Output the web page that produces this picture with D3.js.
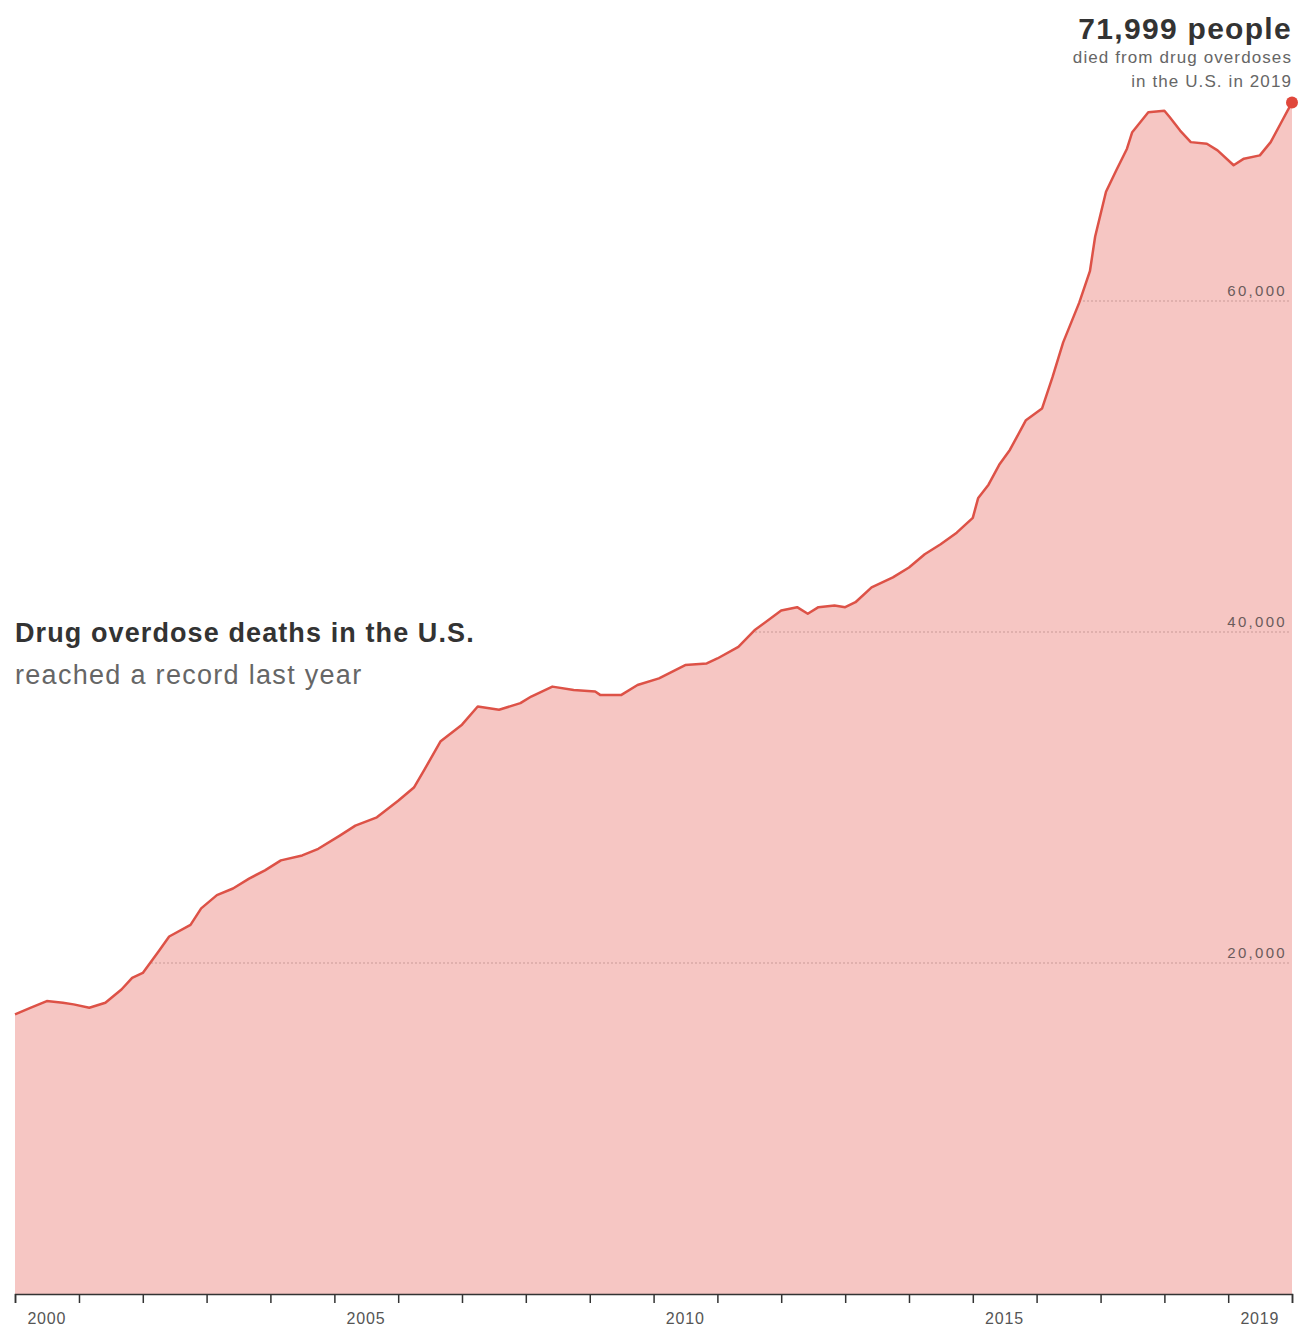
<!DOCTYPE html>
<html>
<head>
<meta charset="utf-8">
<script src="https://cdn.jsdelivr.net/npm/d3@7"></script>
<style>
  body { margin: 0; background: #fff; }
  text { font-family: "Liberation Sans", Arial, sans-serif; }
</style>
</head>
<body>
<div id="chart"></div>
<script>
// 12-month rolling drug overdose deaths
var months = ["2000-01","2000-04","2000-07","2000-10","2000-12","2001-03","2001-06","2001-09","2001-11",
  "2002-01","2002-04","2002-06","2002-10","2002-12","2003-03","2003-06","2003-09","2003-12",
  "2004-03","2004-07","2004-10","2005-02","2005-05","2005-09","2006-01","2006-04","2006-06","2006-09",
  "2007-01","2007-04","2007-08","2007-12","2008-02","2008-06","2008-10","2009-02","2009-03","2009-07","2009-10",
  "2010-02","2010-07","2010-11","2011-01","2011-05","2011-08","2012-01","2012-04","2012-06","2012-08","2012-11",
  "2013-01","2013-03","2013-06","2013-10","2014-01","2014-04","2014-07","2014-10",
  "2015-01","2015-02","2015-04","2015-06","2015-08","2015-11","2016-02","2016-04","2016-06","2016-09","2016-11","2016-12",
  "2017-02","2017-04","2017-06","2017-07","2017-10","2018-01","2018-02","2018-04","2018-06","2018-09","2018-11",
  "2019-02","2019-04","2019-07","2019-09","2019-11","2020-01"];
var deaths = [16900,17300,17700,17600,17500,17300,17600,18400,19100,
  19400,20700,21600,22300,23300,24100,24500,25100,25600,
  26200,26500,26900,27700,28300,28800,29800,30600,31700,33400,
  34400,35500,35300,35700,36100,36700,36500,36400,36200,36200,36800,
  37200,38000,38100,38400,39100,40100,41300,41500,41100,41500,41600,
  41500,41800,42700,43300,43900,44700,45300,46000,
  46900,48100,48900,50100,51000,52800,53500,55400,57500,59900,61800,63900,
  66600,67900,69200,70200,71400,71500,71100,70300,69600,69500,69100,
  68200,68600,68800,69600,70800,71999];
var yTicks = [20000, 40000, 60000];
var tickYears = d3.range(2000, 2021);
var labelYears = [2000, 2005, 2010, 2015, 2019];

var width = 1306, height = 1333;
var parse = d3.timeParse("%Y-%m");
var data = months.map(function (m, i) { return { date: parse(m), value: deaths[i] }; });

var svg = d3.select("#chart").append("svg")
  .attr("width", width)
  .attr("height", height);

var x = d3.scaleTime()
  .domain([new Date(2000, 0, 1), new Date(2020, 0, 1)])
  .range([15, 1292]);
var y = d3.scaleLinear()
  .domain([0, 80000])
  .range([1294, -30]);

var area = d3.area()
  .x(function (d) { return x(d.date); })
  .y0(y(0))
  .y1(function (d) { return y(d.value); });
var line = d3.line()
  .x(function (d) { return x(d.date); })
  .y(function (d) { return y(d.value); });

// clip so gridlines only show inside the filled area
svg.append("defs").append("clipPath")
  .attr("id", "areaClip")
  .append("path")
  .attr("d", area(data));

svg.append("path")
  .datum(data)
  .attr("d", area)
  .attr("fill", "#f6c6c3");

var grid = svg.append("g").attr("clip-path", "url(#areaClip)");
grid.selectAll("line")
  .data(yTicks)
  .join("line")
  .attr("x1", 15)
  .attr("x2", 1290)
  .attr("y1", function (d) { return y(d); })
  .attr("y2", function (d) { return y(d); })
  .attr("stroke", "#c99a97")
  .attr("stroke-width", 1)
  .attr("stroke-dasharray", "2,2");

svg.selectAll(".ylab")
  .data(yTicks)
  .join("text")
  .attr("class", "ylab")
  .attr("x", 1287)
  .attr("y", function (d) { return y(d) - 5; })
  .attr("text-anchor", "end")
  .attr("font-size", 15)
  .attr("letter-spacing", 2.3)
  .attr("fill", "#6b5b5b")
  .text(d3.format(","));

svg.append("path")
  .datum(data)
  .attr("d", line)
  .attr("fill", "none")
  .attr("stroke", "#dd5247")
  .attr("stroke-width", 2.5)
  .attr("stroke-linejoin", "round");

var last = data[data.length - 1];
svg.append("circle")
  .attr("cx", x(last.date))
  .attr("cy", y(last.value))
  .attr("r", 6)
  .attr("fill", "#e0473b");

// x axis
var xAxis = d3.axisBottom(x)
  .tickValues(tickYears.map(function (yr) { return new Date(yr, 0, 1); }))
  .tickSize(9)
  .tickFormat("");
var gx = svg.append("g")
  .attr("transform", "translate(0," + y(0) + ")")
  .call(xAxis);
gx.select(".domain").attr("stroke", "#333").attr("stroke-width", 1.5);
gx.selectAll(".tick line").attr("stroke", "#333").attr("stroke-width", 1.5);

svg.selectAll(".xlab")
  .data(labelYears)
  .join("text")
  .attr("class", "xlab")
  .attr("x", function (yr) { return x(new Date(yr, 6, 1)); })
  .attr("y", 1324)
  .attr("text-anchor", "middle")
  .attr("font-size", 16)
  .attr("letter-spacing", 0.8)
  .attr("fill", "#555")
  .text(function (yr) { return yr; });

// title block
svg.append("text")
  .attr("x", 15)
  .attr("y", 642)
  .attr("font-size", 27)
  .attr("font-weight", "bold")
  .attr("letter-spacing", 1.1)
  .attr("fill", "#333")
  .text("Drug overdose deaths in the U.S.");
svg.append("text")
  .attr("x", 15)
  .attr("y", 684)
  .attr("font-size", 27)
  .attr("letter-spacing", 1.3)
  .attr("fill", "#666")
  .text("reached a record last year");

// annotation
svg.append("text")
  .attr("x", 1292)
  .attr("y", 39)
  .attr("text-anchor", "end")
  .attr("font-size", 30)
  .attr("font-weight", "bold")
  .attr("letter-spacing", 1.3)
  .attr("fill", "#333")
  .text("71,999 people");
svg.append("text")
  .attr("x", 1292)
  .attr("y", 63)
  .attr("text-anchor", "end")
  .attr("font-size", 17)
  .attr("letter-spacing", 1.1)
  .attr("fill", "#666")
  .text("died from drug overdoses");
svg.append("text")
  .attr("x", 1292)
  .attr("y", 87)
  .attr("text-anchor", "end")
  .attr("font-size", 17)
  .attr("letter-spacing", 1.1)
  .attr("fill", "#666")
  .text("in the U.S. in 2019");
</script>
</body>
</html>
